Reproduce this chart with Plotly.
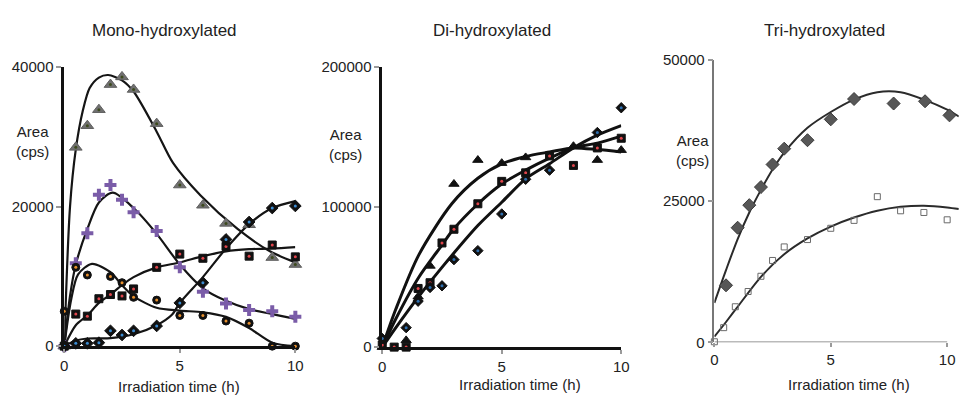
import plotly.graph_objects as go

W, H = 967, 403
FONT = "Liberation Sans, Arial, Helvetica, sans-serif"

# ---------------- Panel 1: Mono-hydroxylated ----------------
t1 = [0, 0.5, 1, 1.5, 2, 2.5, 3, 4, 5, 6, 7, 8, 9, 10]
mono_tri = [0, 28500, 31600, 33900, 37500, 38600, 36800, 31900, 23100, 20200, 17600, 17400, 12700, 11700]
mono_plus = [0, 11900, 16200, 21700, 23100, 21000, 19200, 16500, 11300, 7800, 6100, 5200, 5000, 4200]
mono_circ = [5000, 11300, 10200, None, 10000, 9100, 7000, 6600, 4400, 4400, 3600, 3300, 0, 0]
mono_sq = [0, 4600, 4300, 6800, 7400, 7200, 8200, 11300, 13200, 12600, 14300, 12900, 14500, 12800]
mono_dia = [0, 400, 400, 500, 2200, 1600, 2200, 2900, 6200, 9100, 15300, 17800, 19800, 20100]

fit_tri_x = [0, 0.25, 0.5, 0.8, 1.1, 1.5, 1.9, 2.5, 3, 4, 4.7, 5.9, 7.5, 8.9, 10]
fit_tri_y = [0, 20000, 28200, 33700, 37000, 38500, 38870, 38100, 36500, 30750, 26300, 21600, 16800, 13600, 12000]
fit_plus_x = [0, 0.25, 0.5, 1, 1.5, 2.1, 3, 4, 5, 6, 7, 8, 9, 10]
fit_plus_y = [0, 7200, 11700, 16800, 20600, 22000, 19800, 16100, 11700, 8300, 6500, 5300, 4600, 3900]
fit_circ_x = [0, 0.3, 0.6, 1.2, 2, 2.5, 3, 4, 5, 6, 7, 8, 9, 10]
fit_circ_y = [0, 6700, 10300, 11800, 10600, 8750, 7150, 5500, 5100, 4850, 4200, 2600, 500, 0]
fit_sq_x = [0, 0.5, 1, 1.5, 2, 2.5, 3, 4, 5, 6, 7, 8, 9, 10]
fit_sq_y = [0, 3000, 4400, 6200, 7400, 8750, 9900, 11300, 12000, 12900, 13600, 13900, 14000, 14200]
fit_dia_x = [0, 0.5, 1, 2, 3, 4, 4.66, 5, 6, 7, 8, 9, 10]
fit_dia_y = [0, 800, 1100, 1150, 1700, 3000, 4500, 6200, 9900, 14000, 17500, 19800, 20800]

# ---------------- Panel 2: Di-hydroxylated ----------------
t2 = [0, 0.5, 1, 1.5, 2, 2.5, 3, 4, 5, 6, 7, 8, 9, 10]
di_tri = [0, None, 4800, 36000, 58000, None, 116500, 133600, 131400, 135500, None, 143500, 133600, 140700]
di_sq = [1500, 0, 0, 41900, 46000, 74400, 84200, 102400, 118400, 124500, 136600, 129800, 142300, 149200]
di_dia = [6150, None, 13900, 32800, 42600, 43800, 62500, 68900, 95100, 119900, 126400, None, 153300, 171000]

fit2_top_x = [0, 0.57, 1.53, 2.91, 4.0, 5.0, 6.0, 7.0, 8.0, 9.0, 10]
fit2_top_y = [0, 27200, 65900, 102400, 120600, 130900, 136200, 139400, 142300, 141100, 139400]
fit2_mid_x = [0, 0.57, 1.53, 2.49, 2.98, 4.01, 5.0, 6.0, 7.0, 8.0, 9.0, 10]
fit2_mid_y = [0, 20300, 49950, 72700, 84150, 102400, 116500, 126400, 135000, 142300, 145700, 150700]
fit2_bot_x = [0, 0.57, 1.53, 2.49, 4.01, 5.0, 6.0, 7.0, 8.0, 9.0, 10]
fit2_bot_y = [0, 14000, 36300, 56800, 87000, 103500, 120200, 131000, 142300, 151400, 158200]

# ---------------- Panel 3: Tri-hydroxylated ----------------
t3_dia = [0.5, 1, 1.5, 2, 2.5, 3, 4, 5, 6, 7.7, 9.05, 10.1]
tri_dia = [10100, 20300, 24300, 27500, 31500, 34300, 35800, 39500, 43100, 42300, 42700, 40200]
t3_sq = [0, 0.4, 0.9, 1.45, 2, 2.5, 3, 4, 5, 6, 7, 8, 9, 10]
tri_sq = [100, 2600, 6300, 9000, 11700, 14500, 16900, 18200, 20200, 21600, 25800, 23300, 23000, 21700]

fit3_top_x = [0, 0.5, 1, 1.5, 2, 2.5, 3, 4, 5, 6, 7, 8, 9, 10, 10.5]
fit3_top_y = [7000, 12800, 18300, 23000, 27000, 30600, 33600, 38000, 40800, 43000, 44300, 44300, 43000, 41200, 40000]
fit3_bot_x = [0, 0.5, 1, 2, 3, 4, 5, 6, 7, 8, 9, 10, 10.5]
fit3_bot_y = [1000, 3600, 6300, 11600, 15600, 18400, 20500, 22100, 23300, 24000, 24200, 23900, 23600]

titles = ["Mono-hydroxylated", "Di-hydroxylated", "Tri-hydroxylated"]
xlabel = "Irradiation time (h)"
ylabel = "Area<br>(cps)"
xticks = [0, 5, 10]
yticks1 = [0, 20000, 40000]
yticks2 = [0, 100000, 200000]
yticks3 = [0, 25000, 50000]


def fx(px):
    return px / W


def fy(py):
    return 1 - py / H


fig = go.Figure()


def curve(x, y, xa, ya, color="#111", width=2.2):
    fig.add_trace(go.Scatter(x=x, y=y, xaxis=xa, yaxis=ya, mode="lines",
                             line=dict(color=color, width=width, shape="spline", smoothing=0.8),
                             hoverinfo="skip", showlegend=False))


def pts(x, y, xa, ya, symbol, size, color, lcolor, lwidth, dot=None):
    fig.add_trace(go.Scatter(x=x, y=y, xaxis=xa, yaxis=ya, mode="markers", cliponaxis=False,
                             marker=dict(symbol=symbol, size=size, color=color,
                                         line=dict(color=lcolor, width=lwidth)),
                             showlegend=False))
    if dot:
        fig.add_trace(go.Scatter(x=x, y=y, xaxis=xa, yaxis=ya, mode="markers", cliponaxis=False,
                                 marker=dict(symbol="circle", size=3, color=dot, line=dict(width=0)),
                                 hoverinfo="skip", showlegend=False))


# panel 1
for cx, cy in [(fit_tri_x, fit_tri_y), (fit_plus_x, fit_plus_y), (fit_circ_x, fit_circ_y),
               (fit_sq_x, fit_sq_y), (fit_dia_x, fit_dia_y)]:
    curve(cx, cy, "x", "y", "#151515", 2.2)
pts(t1, mono_tri, "x", "y", "triangle-up", 11, "#707070", "#5f5f5f", 1, dot="#3d4a1e")
pts(t1, mono_plus, "x", "y", "cross", 10, "#7a5ca8", "#7a5ca8", 0)
pts(t1, mono_circ, "x", "y", "circle", 8, "#111", "#111", 1, dot="#e8902e")
pts(t1, mono_sq, "x", "y", "square", 8, "#111", "#111", 1, dot="#e0454c")
pts(t1, mono_dia, "x", "y", "diamond", 9, "#111", "#111", 1, dot="#3c8cd2")

# panel 2
for cx, cy in [(fit2_top_x, fit2_top_y), (fit2_mid_x, fit2_mid_y), (fit2_bot_x, fit2_bot_y)]:
    curve(cx, cy, "x2", "y2", "#111", 3)
pts(t2, di_tri, "x2", "y2", "triangle-up", 9, "#111", "#111", 1)
pts(t2, di_sq, "x2", "y2", "square", 8, "#111", "#111", 1, dot="#e0454c")
pts(t2, di_dia, "x2", "y2", "diamond", 8, "#111", "#111", 1, dot="#2f6fae")

# panel 3
curve(fit3_top_x, fit3_top_y, "x3", "y3", "#2b2b2b", 2)
curve(fit3_bot_x, fit3_bot_y, "x3", "y3", "#2b2b2b", 2)
pts(t3_dia, tri_dia, "x3", "y3", "diamond", 10, "#575757", "#3a3a3a", 1)
pts(t3_sq, tri_sq, "x3", "y3", "square-open", 6, "#6a6a6a", "#6a6a6a", 1)

tickfont = dict(family=FONT, size=15, color="#222")


def xax(domain, rng, lc, lw, showline=True):
    return dict(domain=domain, range=rng, tickvals=xticks, ticktext=[str(v) for v in xticks],
                showgrid=False, zeroline=False, showline=showline, linecolor=lc, linewidth=lw,
                ticks="outside", ticklen=4, tickwidth=2, tickcolor="#9a9a9a", tickfont=tickfont)


def yax(domain, rng, ticks, lc, lw, anchor):
    return dict(domain=domain, range=rng, tickvals=ticks, ticktext=[str(v) for v in ticks],
                showgrid=False, zeroline=False, showline=True, linecolor=lc, linewidth=lw,
                ticks="outside", ticklen=5, tickwidth=1.5, tickcolor="#9a9a9a", tickfont=tickfont,
                anchor=anchor)


layout = dict(
    width=W, height=H, margin=dict(l=0, r=0, t=0, b=0),
    paper_bgcolor="white", plot_bgcolor="white", showlegend=False,
    xaxis=dict(xax([fx(61), fx(295)], [0, 10], "#111", 2.5), anchor="y"),
    yaxis=yax([fy(352), fy(60.7)], [0, 40000], yticks1, "#111", 2.5, "x"),
    xaxis2=dict(xax([fx(383), fx(625)], [0, 10], "#111", 2.5), anchor="y2"),
    yaxis2=yax([fy(353), fy(60.7)], [0, 200000], yticks2, "#111", 2.5, "x2"),
    xaxis3=dict(xax([fx(719.3), fx(966.8)], [0, 10.5], "#777", 1.5, showline=False), anchor="y3"),
    yaxis3=yax([fy(348), fy(53.3)], [0, 50000], yticks3, "#777", 1.5, "x3"),
)
fig.update_layout(**layout)

# x axis line for panel 3 (ends at 10)
fig.add_shape(type="line", xref="x3", yref="y3", x0=0, x1=10, y0=0, y1=0,
              line=dict(color="#777", width=1.5))

ann = []
for txt, cx in zip(titles, [163, 494, 831]):
    ann.append(dict(text=txt, x=fx(cx), y=fy(22), xref="paper", yref="paper",
                    showarrow=False, font=dict(family=FONT, size=17, color="#222"),
                    xanchor="center", yanchor="middle"))
for cx, cy in [(177.5, 394), (522, 392.5), (856, 392)]:
    ann.append(dict(text=xlabel, x=fx(cx), y=fy(cy), xref="paper", yref="paper",
                    showarrow=False, font=dict(family=FONT, size=15, color="#222"),
                    xanchor="center", yanchor="middle"))
for cx, cy in [(28.5, 138.3), (346, 141.7), (697, 147.8)]:
    ann.append(dict(text=ylabel, x=fx(cx), y=fy(cy), xref="paper", yref="paper",
                    showarrow=False, font=dict(family=FONT, size=15, color="#222"),
                    xanchor="center", yanchor="middle", align="center"))
fig.update_layout(annotations=ann)

fig.write_html("out.html", config={"displayModeBar": False},
               post_script="document.body.style.margin='0px';")
